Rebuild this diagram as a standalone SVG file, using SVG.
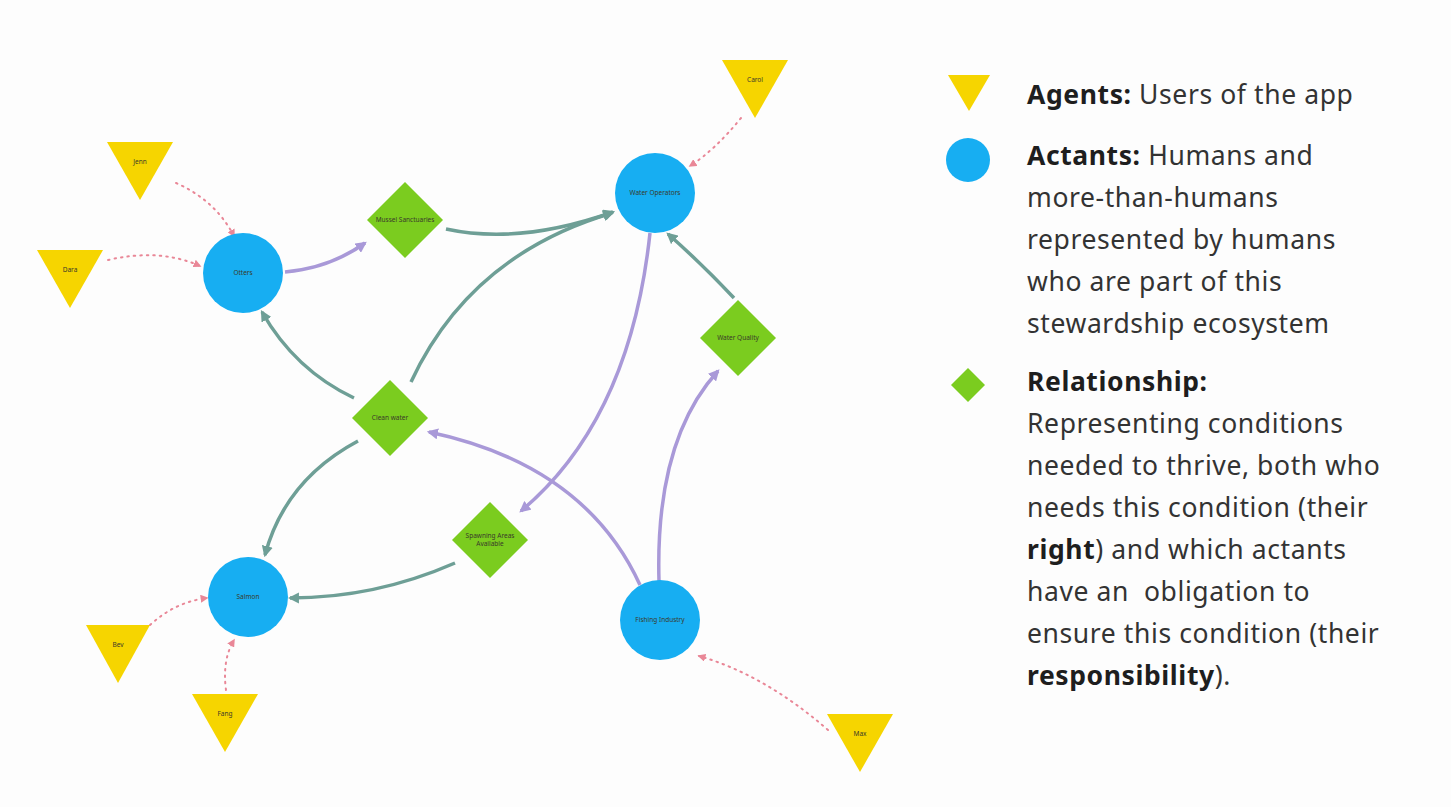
<svg xmlns="http://www.w3.org/2000/svg" width="1451" height="807" viewBox="0 0 1451 807">
<defs>
<style>
.agent{fill:#F6D500}
.actant{fill:#17AEF2}
.rel{fill:#7BCC1F}
.lbl{font-family:"Noto Sans","Liberation Sans",sans-serif;font-size:6.5px;fill:#3a3a2a;text-anchor:middle;dominant-baseline:middle}
.agentline{fill:none;stroke:#E98797;stroke-width:2;stroke-dasharray:1.5 5;stroke-linecap:round}
.resp{fill:none;stroke:#A999D8;stroke-width:3.5}
.right{fill:none;stroke:#6E9F96;stroke-width:3.5}
.leg{font-family:"Noto Sans","Liberation Sans",sans-serif;font-size:26.5px;letter-spacing:0.6px;fill:#333}
.b{font-weight:bold;fill:#1e1e1e}
</style>
<marker id="ap" viewBox="0 0 10 10" refX="8" refY="5" markerWidth="4" markerHeight="4" orient="auto"><path d="M0,0L10,5L0,10z" fill="#E98797"/></marker>
<marker id="ar" viewBox="0 0 10 10" refX="8" refY="5" markerWidth="3.2" markerHeight="3.2" orient="auto"><path d="M0,0L10,5L0,10z" fill="#A999D8"/></marker>
<marker id="at" viewBox="0 0 10 10" refX="8" refY="5" markerWidth="3.2" markerHeight="3.2" orient="auto"><path d="M0,0L10,5L0,10z" fill="#6E9F96"/></marker>
</defs>
<rect width="1451" height="807" fill="#FDFDFD"/>

<g id="connectors">
<path class="agentline" marker-end="url(#ap)" d="M176,183 Q215,200 234,236"/>
<path class="agentline" marker-end="url(#ap)" d="M108,260 Q160,248 200,266"/>
<path class="agentline" marker-end="url(#ap)" d="M741,118 Q715,150 690,166"/>
<path class="agentline" marker-end="url(#ap)" d="M150,625 Q175,602 207,598"/>
<path class="agentline" marker-end="url(#ap)" d="M226,690 Q222,660 234,640"/>
<path class="agentline" marker-end="url(#ap)" d="M828,730 Q765,675 699,656"/>

<path class="resp" marker-end="url(#ar)" d="M285,272 Q330,268 365,243"/>
<path class="resp" marker-end="url(#ar)" d="M650,233 Q630,420 521,511"/>
<path class="resp" marker-end="url(#ar)" d="M640,585 Q585,465 429,432"/>
<path class="resp" marker-end="url(#ar)" d="M659,581 Q655,440 718,371"/>

<path class="right" marker-end="url(#at)" d="M446,229 Q520,245 613,212"/>
<path class="right" marker-end="url(#at)" d="M411,382 Q470,255 612,213"/>
<path class="right" marker-end="url(#at)" d="M354,398 Q295,370 262,312"/>
<path class="right" marker-end="url(#at)" d="M358,441 Q285,480 265,555"/>
<path class="right" marker-end="url(#at)" d="M455,563 Q375,598 290,598"/>
<path class="right" marker-end="url(#at)" d="M734,298 Q700,262 668,234"/>
</g>

<g id="agent-jenn"><polygon class="agent" points="107,142 173,142 140,200"/><text class="lbl" x="140" y="162">Jenn</text></g>
<g id="agent-dara"><polygon class="agent" points="37,250 103,250 70,308"/><text class="lbl" x="70" y="270">Dara</text></g>
<g id="agent-carol"><polygon class="agent" points="722,60 788,60 755,118"/><text class="lbl" x="755" y="80">Carol</text></g>
<g id="agent-bev"><polygon class="agent" points="86,625 150,625 118,683"/><text class="lbl" x="118" y="645">Bev</text></g>
<g id="agent-fang"><polygon class="agent" points="192,694 258,694 225,752"/><text class="lbl" x="225" y="714">Fang</text></g>
<g id="agent-max"><polygon class="agent" points="827,714 893,714 860,772"/><text class="lbl" x="860" y="734">Max</text></g>

<g id="actant-1"><circle class="actant" cx="243" cy="273" r="40"/><text class="lbl" x="243" y="273">Otters</text></g>
<g id="actant-2"><circle class="actant" cx="655" cy="193" r="40"/><text class="lbl" x="655" y="193">Water Operators</text></g>
<g id="actant-3"><circle class="actant" cx="248" cy="597" r="40"/><text class="lbl" x="248" y="597">Salmon</text></g>
<g id="actant-4"><circle class="actant" cx="660" cy="620" r="40"/><text class="lbl" x="660" y="620">Fishing Industry</text></g>

<g id="rel-1"><polygon class="rel" points="405,182 443,220 405,258 367,220"/><text class="lbl" x="405" y="220">Mussel Sanctuaries</text></g>
<g id="rel-2"><polygon class="rel" points="390,380 428,418 390,456 352,418"/><text class="lbl" x="390" y="418">Clean water</text></g>
<g id="rel-3"><polygon class="rel" points="738,300 776,338 738,376 700,338"/><text class="lbl" x="738" y="338">Water Quality</text></g>
<g id="rel-4"><polygon class="rel" points="490,502 528,540 490,578 452,540"/><text class="lbl" x="490" y="536">Spawning Areas</text><text class="lbl" x="490" y="544">Available</text></g>

<g id="legend">
<polygon class="agent" points="948,75 990,75 969,111"/>
<circle class="actant" cx="968" cy="160" r="22"/>
<polygon class="rel" points="968,368 985,385 968,402 951,385"/>
<text class="leg" x="1027" y="104"><tspan class="b">Agents:</tspan> Users of the app</text>
<text class="leg" x="1027" y="165"><tspan class="b">Actants:</tspan> Humans and</text>
<text class="leg" x="1027" y="207">more-than-humans</text>
<text class="leg" x="1027" y="249">represented by humans</text>
<text class="leg" x="1027" y="291">who are part of this</text>
<text class="leg" x="1027" y="333">stewardship ecosystem</text>
<text class="leg b" x="1027" y="391">Relationship:</text>
<text class="leg" x="1027" y="433">Representing conditions</text>
<text class="leg" x="1027" y="475">needed to thrive, both who</text>
<text class="leg" x="1027" y="517">needs this condition (their</text>
<text class="leg" x="1027" y="559"><tspan class="b">right</tspan>) and which actants</text>
<text class="leg" x="1027" y="601" xml:space="preserve">have an  obligation to</text>
<text class="leg" x="1027" y="643">ensure this condition (their</text>
<text class="leg" x="1027" y="685"><tspan class="b">responsibility</tspan>).</text>
</g>
</svg>
